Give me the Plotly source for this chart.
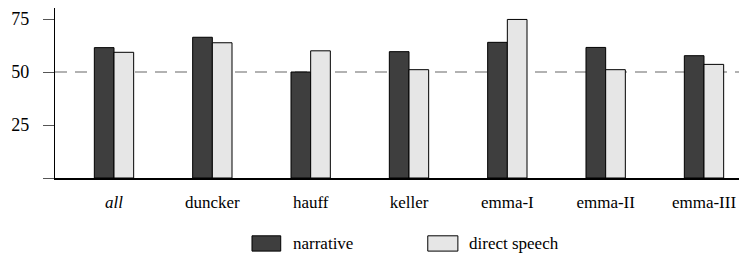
import plotly.graph_objects as go

categories = ["<i>all</i>", "duncker", "hauff", "keller", "emma-I", "emma-II", "emma-III"]
narrative = [61.5, 66.4, 50.0, 59.6, 64.0, 61.6, 57.7]
direct_speech = [59.3, 63.8, 60.0, 51.1, 74.8, 51.1, 53.6]
y_ticks = [0, 25, 50, 75]
y_tick_labels = ["", "25", "50", "75"]
baseline = 50
series_names = ["narrative", "direct speech"]
series_colors = ["#3e3e3e", "#e6e6e6"]

FONT = "Liberation Serif"

fig = go.Figure()
for name, vals, col in zip(series_names, [narrative, direct_speech], series_colors):
    fig.add_trace(go.Bar(x=categories, y=vals, name=name, showlegend=False,
                         marker=dict(color=col, line=dict(color="black", width=1))))

fig.add_hline(y=baseline, line=dict(color="#666666", width=1.2, dash="12px,8px"), layer="below")

# custom legend (paper coordinates)
legend_items = [(0.288, 0.330, 0.345), (0.545, 0.589, 0.602)]
for (x0, x1, tx), name, col in zip(legend_items, series_names, series_colors):
    fig.add_shape(type="rect", xref="paper", yref="paper", x0=x0, x1=x1, y0=-0.43, y1=-0.34,
                  fillcolor=col, line=dict(color="black", width=1))
    fig.add_annotation(xref="paper", yref="paper", x=tx, y=-0.385, text=name, showarrow=False,
                       xanchor="left", yanchor="middle", font=dict(family=FONT, size=17, color="black"))

fig.update_layout(
    width=739, height=254,
    margin=dict(l=55, r=0, t=8, b=76),
    paper_bgcolor="white", plot_bgcolor="white",
    barmode="group", bargap=0.6, bargroupgap=0,
    font=dict(family=FONT, size=17, color="black"),
    showlegend=False,
    xaxis=dict(range=[-0.6, 6.356], showline=True, linecolor="black", linewidth=1.5,
               ticks="", showgrid=False, zeroline=False, ticklabelstandoff=8,
               automargin=False, tickfont=dict(family=FONT, size=17, color="black")),
    yaxis=dict(range=[0, 80.2], showline=True, linecolor="black", linewidth=1.2,
               tickvals=y_ticks, ticktext=y_tick_labels, ticks="outside", ticklen=11,
               tickcolor="#555555", tickwidth=1.2, showgrid=False, zeroline=False,
               ticklabelstandoff=10,
               automargin=False, tickfont=dict(family=FONT, size=18, color="black")),
)

fig.write_html(
    "out.html",
    config={"displayModeBar": False},
    post_script="document.body.style.margin='0';document.body.style.overflow='hidden';",
)
